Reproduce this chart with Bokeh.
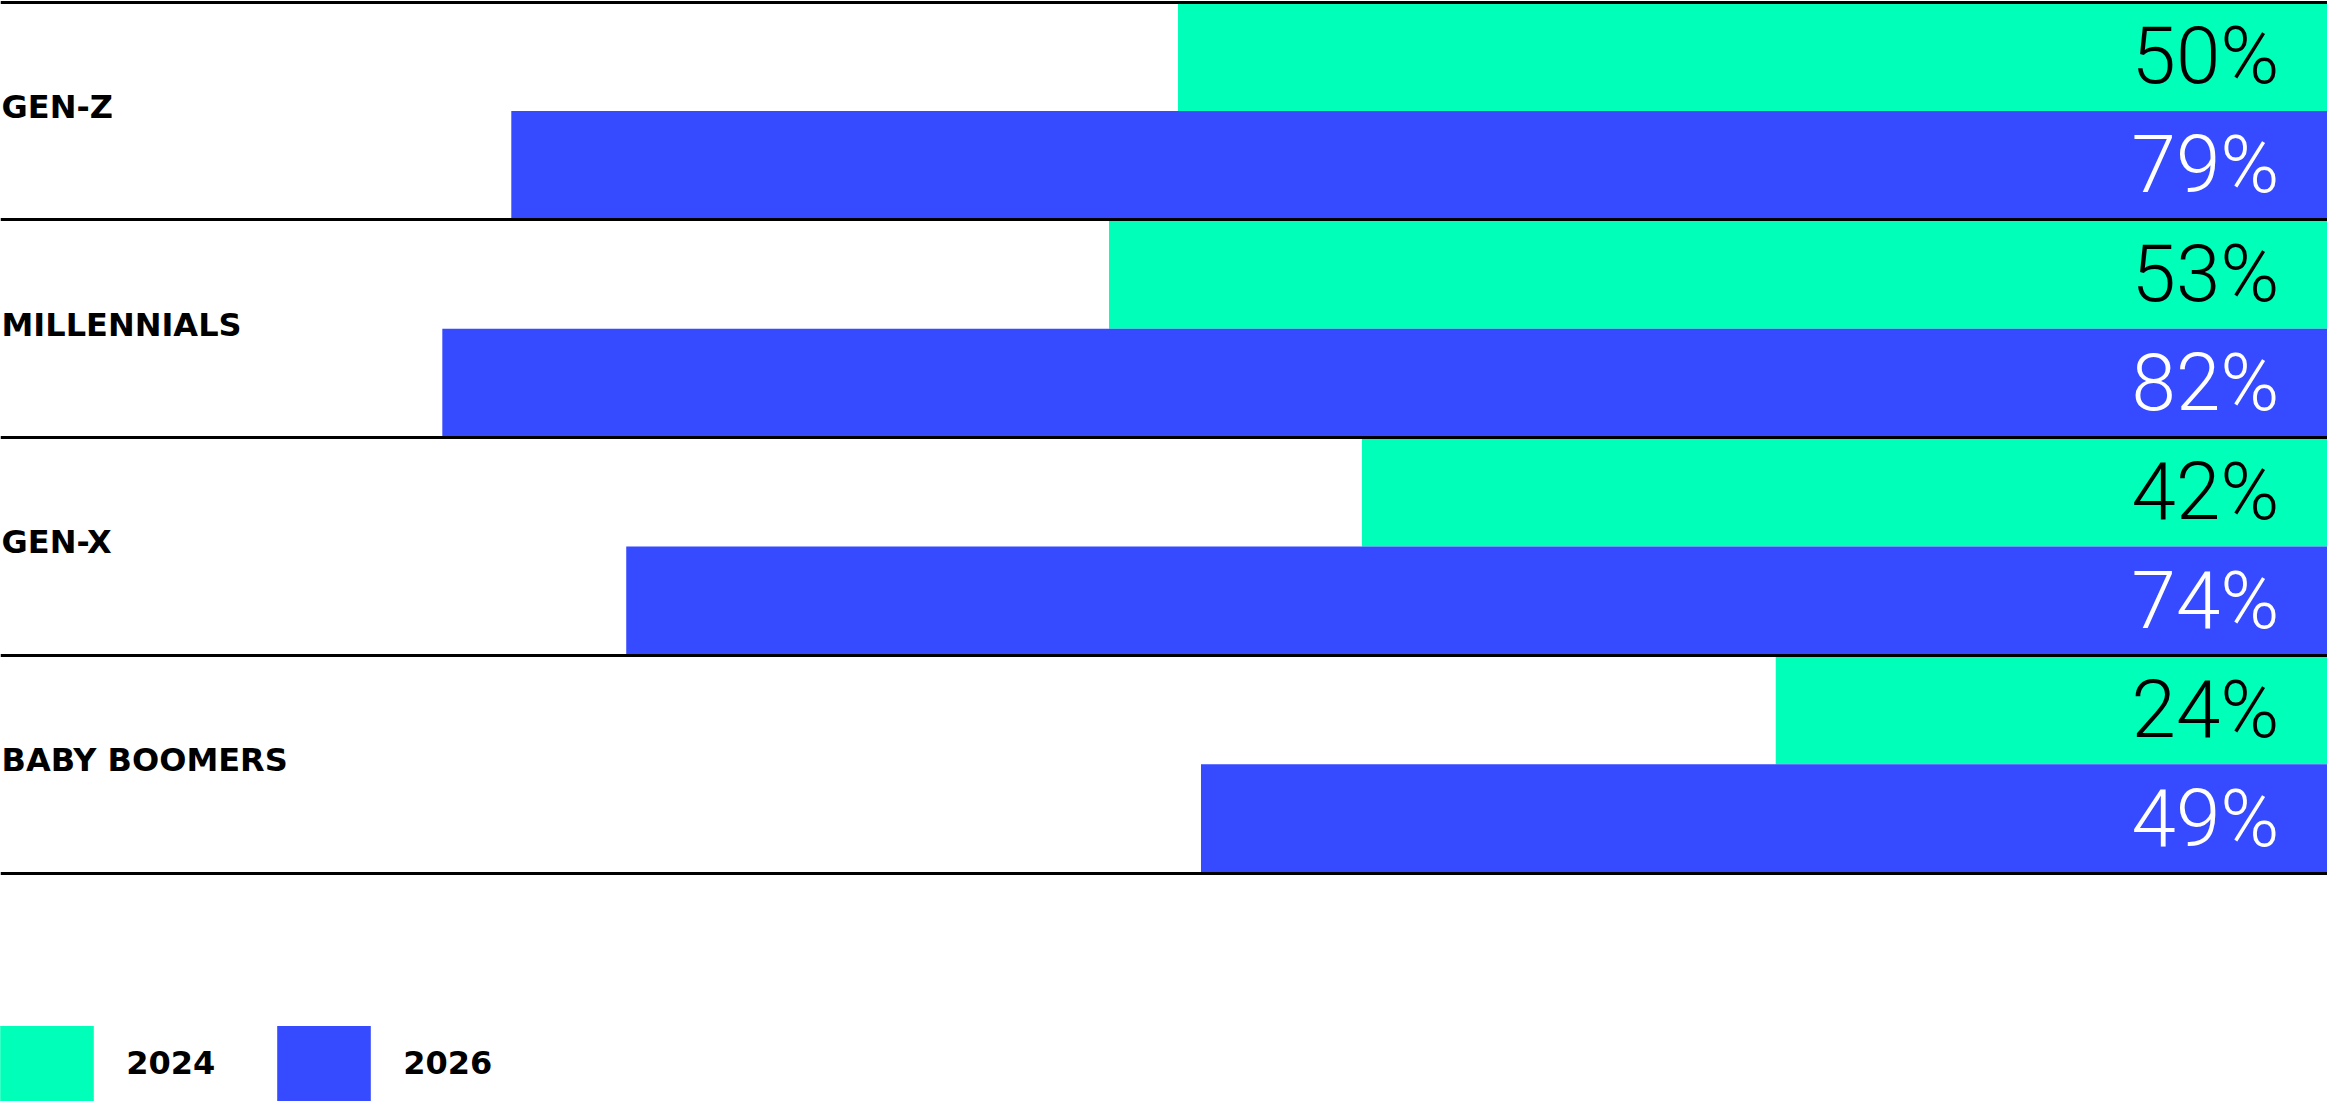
from bokeh.plotting import figure
from bokeh.models import ColumnDataSource, Range1d, Legend, LegendItem
from bokeh.core.properties import value
from bokeh.embed import file_html
from bokeh.resources import INLINE

# ---- data ----
categories = ["GEN-Z", "MILLENNIALS", "GEN-X", "BABY BOOMERS"]
years = ["2024", "2026"]
values_2024 = [50, 53, 42, 24]
values_2026 = [79, 82, 74, 49]

# ---- style ----
GREEN = "#00FFB9"
BLUE = "#364AFF"
W, H = 2327, 1102
PX_PER_PCT = 22.99     # horizontal pixels per percentage point
X_MAX = W / PX_PER_PCT # value at the left edge (scale runs right-to-left)
UNIT_PX = 217.75       # pixels per group band
TOP_PAD = 1.5

y_top = -TOP_PAD / UNIT_PX
y_bottom = (H - TOP_PAD) / UNIT_PX

p = figure(width=W, height=H,
           x_range=Range1d(X_MAX, 0), y_range=Range1d(y_bottom, y_top),
           x_axis_type=None, y_axis_type=None,
           output_backend="svg", toolbar_location=None,
           min_border=0, min_border_left=0, min_border_right=0,
           min_border_top=0, min_border_bottom=0)
p.grid.visible = False
p.outline_line_color = None
p.background_fill_color = "white"
p.border_fill_color = "white"

idx = list(range(len(categories)))
src24 = ColumnDataSource(dict(
    y=[i + 0.25 for i in idx], right=values_2024,
    label=[f"{v}%" for v in values_2024]))
src26 = ColumnDataSource(dict(
    y=[i + 0.75 for i in idx], right=values_2026,
    label=[f"{v}%" for v in values_2026]))
src_cat = ColumnDataSource(dict(
    y=[i + 0.5 for i in idx], x=[X_MAX] * len(idx), name=categories))

r24 = p.hbar(y="y", height=0.5, left=0, right="right", source=src24,
             fill_color=GREEN, line_color=None)
r26 = p.hbar(y="y", height=0.5, left=0, right="right", source=src26,
             fill_color=BLUE, line_color=None)

p.hspan(y=list(range(len(categories) + 1)), line_color="black", line_width=3)

pct_font = value("Roboto Light")
p.text(x=0, y="y", text="label", source=src24, x_offset=-48,
       text_align="right", text_baseline="middle",
       text_font=pct_font, text_font_size="80px", text_color="black")
p.text(x=0, y="y", text="label", source=src26, x_offset=-48,
       text_align="right", text_baseline="middle",
       text_font=pct_font, text_font_size="80px", text_color="white")

p.text(x="x", y="y", text="name", source=src_cat, x_offset=1, y_offset=-4,
       text_align="left", text_baseline="middle",
       text_font=value("DejaVu Sans"), text_font_style="bold",
       text_font_size="32px", text_color="black")

legend = Legend(items=[LegendItem(label=years[0], renderers=[r24]),
                       LegendItem(label=years[1], renderers=[r26])],
                orientation="horizontal", location=(-11.75, -8.4),
                glyph_width=117, glyph_height=94, label_standoff=21,
                label_width=94, spacing=45, padding=0, margin=0,
                border_line_color=None, background_fill_alpha=0,
                label_text_font="DejaVu Sans", label_text_font_style="bold",
                label_text_font_size="32px", label_text_color="black")
p.add_layout(legend)

open("out.html", "w").write(file_html(p, INLINE))
